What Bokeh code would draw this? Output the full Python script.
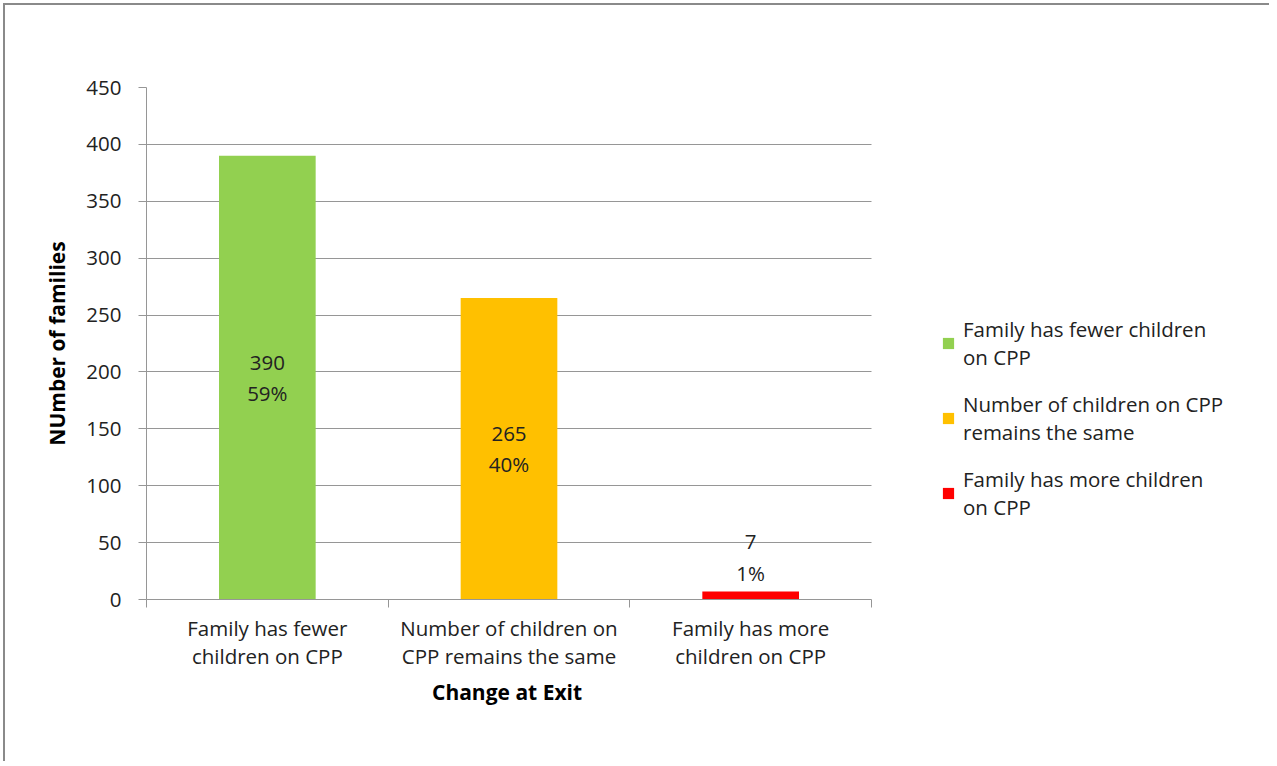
from bokeh.plotting import figure
from bokeh.models import ColumnDataSource, FixedTicker, Range1d, Legend, LegendItem, Title
from bokeh.core.properties import value
from bokeh.embed import file_html
from bokeh.resources import INLINE

categories = ["Family has fewer children on CPP",
              "Number of children on CPP remains the same",
              "Family has more children on CPP"]
tick_labels = ["Family has fewer\nchildren on CPP",
               "Number of children on\nCPP remains the same",
               "Family has more\nchildren on CPP"]
legend_labels = ["Family has fewer children\non CPP",
                 "Number of children on CPP\nremains the same",
                 "Family has more children\non CPP"]
counts = [390, 265, 7]
percents = ["59%", "40%", "1%"]
colors = ["#92D050", "#FFC000", "#FF0000"]
y_ticks = [0, 50, 100, 150, 200, 250, 300, 350, 400, 450]
x_title = "Change at Exit"
y_title = "NUmber of families"

FONT = "Open Sans"
GRAY = "#969696"
FS = "20.5px"

W, H = 1266, 758
BL, BT, BB = 141, 82, 164
PLOT_W = 725                       # pixel width of the category area
FRAME_W = W - BL                   # frame extends under the legend
n = len(categories)
xs = [i + 0.5 for i in range(n)]

p = figure(width=W, height=H, output_backend="svg", toolbar_location=None,
           x_range=Range1d(0, n * FRAME_W / PLOT_W), y_range=Range1d(0, 450),
           min_border_left=BL, min_border_top=BT, min_border_right=0, min_border_bottom=BB)
p.outline_line_color = None
p.styles = {"border-left": "2px solid #8a8a8a", "border-top": "2px solid #8a8a8a",
            "margin-left": "3px", "margin-top": "3px"}

src = ColumnDataSource(dict(x=xs, top=counts, color=colors, cat=categories))
bars = p.vbar(x="x", top="top", width=0.4, bottom=0, color="color", line_color=None, source=src)

# data labels: centred inside large bars, above small bars
inside = [i for i, c in enumerate(counts) if c > 50]
outside = [i for i, c in enumerate(counts) if c <= 50]
p.text(x=[xs[i] for i in inside], y=[counts[i] / 2 for i in inside],
       text=[f"{counts[i]}\n{percents[i]}" for i in inside],
       text_align="center", text_baseline="middle", text_font=value(FONT),
       text_font_size=FS, text_color="#222222", text_line_height=1.12)
p.text(x=[xs[i] for i in outside], y=[counts[i] for i in outside],
       text=[f"{counts[i]}\n{percents[i]}" for i in outside],
       text_align="center", text_baseline="bottom", text_font=value(FONT),
       text_font_size=FS, text_color="#222222", text_line_height=1.12, y_offset=-5)

# axes
p.xaxis.bounds = (0, n)
p.xaxis.ticker = FixedTicker(ticks=xs, minor_ticks=list(range(n + 1)))
p.xaxis.major_label_overrides = {x: t for x, t in zip(xs, tick_labels)}
p.xaxis.major_tick_out = 0
p.xaxis.major_tick_in = 0
p.xaxis.minor_tick_out = 8
p.xaxis.minor_tick_in = 0
p.xaxis.minor_tick_line_color = GRAY
p.xaxis.axis_line_color = GRAY
p.xaxis.major_label_text_font = FONT
p.xaxis.major_label_text_font_size = FS
p.xaxis.major_label_text_color = "#222222"
p.xaxis.major_label_text_line_height = 1.0
p.xaxis.major_label_standoff = 6

# x-axis title, centred under the category area
p.add_layout(Title(text=x_title, align="left", offset=PLOT_W / 2 - 77, standoff=6,
                   text_font=FONT, text_font_style="bold", text_font_size="21px",
                   text_color="#000000"), "below")

p.yaxis.ticker = FixedTicker(ticks=y_ticks)
p.yaxis.major_tick_out = 8
p.yaxis.major_tick_in = 0
p.yaxis.minor_tick_line_color = None
p.yaxis.major_tick_line_color = GRAY
p.yaxis.axis_line_color = GRAY
p.yaxis.major_label_text_font = FONT
p.yaxis.major_label_text_font_size = FS
p.yaxis.major_label_text_color = "#222222"
p.yaxis.major_label_standoff = 17
p.yaxis.axis_label = y_title
p.yaxis.axis_label_text_font = FONT
p.yaxis.axis_label_text_font_style = "bold"
p.yaxis.axis_label_text_font_size = "21px"
p.yaxis.axis_label_text_color = "#000000"
p.yaxis.axis_label_standoff = 12

p.xgrid.grid_line_color = None
p.ygrid.ticker = FixedTicker(ticks=y_ticks)
p.ygrid.cross_bounds = (0, n)
p.ygrid.grid_line_color = GRAY
p.ygrid.grid_line_width = 1

# legend: one item per bar, to the right of the category area
items = [LegendItem(label=legend_labels[i], renderers=[bars], index=i) for i in range(n)]
legend = Legend(items=items, location=(PLOT_W + 70, 78), orientation="vertical",
                glyph_width=14, glyph_height=14, label_standoff=8, spacing=19,
                padding=0, margin=0, border_line_color=None, background_fill_alpha=0,
                label_text_font=FONT, label_text_font_size=FS, label_text_color="#222222",
                label_text_line_height=1.34)
p.add_layout(legend, "center")

open("out.html", "w").write(file_html(p, INLINE))
